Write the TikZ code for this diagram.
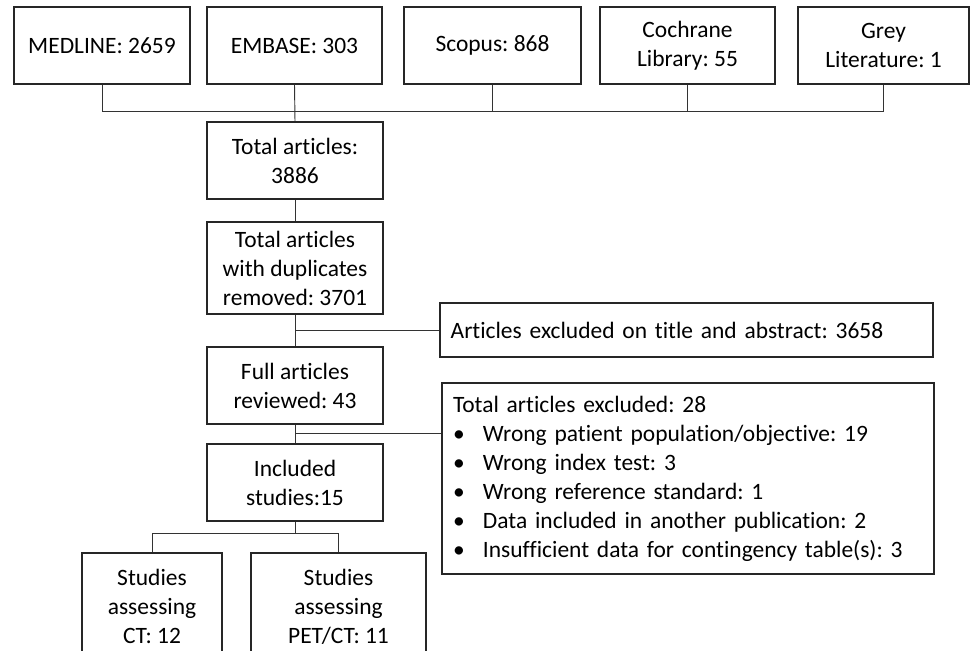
\documentclass[tikz,border=0pt]{standalone}
\usepackage{fontspec}
\setmainfont[Ligatures={TeX,NoCommon}]{Carlito}
\frenchspacing
\begin{document}
\begin{tikzpicture}[x=0.75pt, y=-0.75pt,
  box/.style={draw=black!85, line width=1pt, align=center, inner sep=2pt,
    minimum height=57.75pt, font=\fontsize{17.6}{21.75}\selectfont},
  link/.style={draw=black!80, line width=0.7pt}]
\useasboundingbox (0,0) rectangle (973,650);
\node[box, minimum width=132pt] (medline) at (102, 45.5) {MEDLINE: 2659};
\node[box, minimum width=131.25pt] (embase) at (294.5, 45.5) {EMBASE: 303};
\node[box, minimum width=132.75pt] (scopus) at (492.5, 45.5) {Scopus: 868};
\node[box, minimum width=131.25pt] (cochrane) at (687.5, 45.5) {Cochrane\\Library: 55};
\node[box, minimum width=128.25pt] (grey) at (883.5, 45.5) {Grey\\Literature: 1};

\node[box, minimum width=132pt] (total) at (295, 160.5) {Total articles:\\3886};
\node[box, minimum width=132pt, minimum height=69pt] (nodup) at (295, 268) {Total articles\\with duplicates\\removed: 3701};
\node[box, minimum width=132pt] (full) at (295, 385.5) {Full articles\\reviewed: 43};
\node[box, minimum width=132pt] (incl) at (295, 482.5) {Included\\studies:15};
\node[box, minimum width=105pt, minimum height=80.25pt] (ct) at (152, 606.5) {Studies\\assessing\\CT: 12};
\node[box, minimum width=131.25pt, minimum height=80.25pt] (pet) at (338.5, 606.5) {Studies\\assessing\\PET/CT: 11};

\node[box, align=left, inner xsep=8pt, text width=353.75pt, minimum height=40.5pt] (excl1) at (686.5, 330) {Articles excluded on title and abstract: 3658};
\node[box, align=left, inner xsep=8.25pt, text width=352.5pt, minimum height=143.25pt] (excl2) at (688, 478.5) {Total articles excluded: 28\\
\makebox[22.5pt][l]{\textbullet}Wrong patient population/objective: 19\\
\makebox[22.5pt][l]{\textbullet}Wrong index test: 3\\
\makebox[22.5pt][l]{\textbullet}Wrong reference standard: 1\\
\makebox[22.5pt][l]{\textbullet}Data included in another publication: 2\\
\makebox[22.5pt][l]{\textbullet}Insufficient data for contingency table(s): 3};

\coordinate (bus) at (0, 111);
\coordinate (j2) at (295, 433);
\coordinate (fork) at (295, 533);

\draw[link] (medline.south) -- (medline.south |- bus) -- (grey.south |- bus) -- (grey.south);
\draw[link] (scopus.south) -- (scopus.south |- bus);
\draw[link] (cochrane.south) -- (cochrane.south |- bus);
\draw[link] (embase.south) -- (total.north);
\draw[link] (total) -- (nodup);
\draw[link] (nodup) -- (full);
\draw[link] (nodup.south |- excl1.west) -- (excl1.west);
\draw[link] (full) -- (incl);
\draw[link] (j2) -- (j2 -| excl2.west);
\draw[link] (incl.south) -- (fork);
\draw[link] (ct.north) |- (fork) -| (pet.north);
\end{tikzpicture}
\end{document}
